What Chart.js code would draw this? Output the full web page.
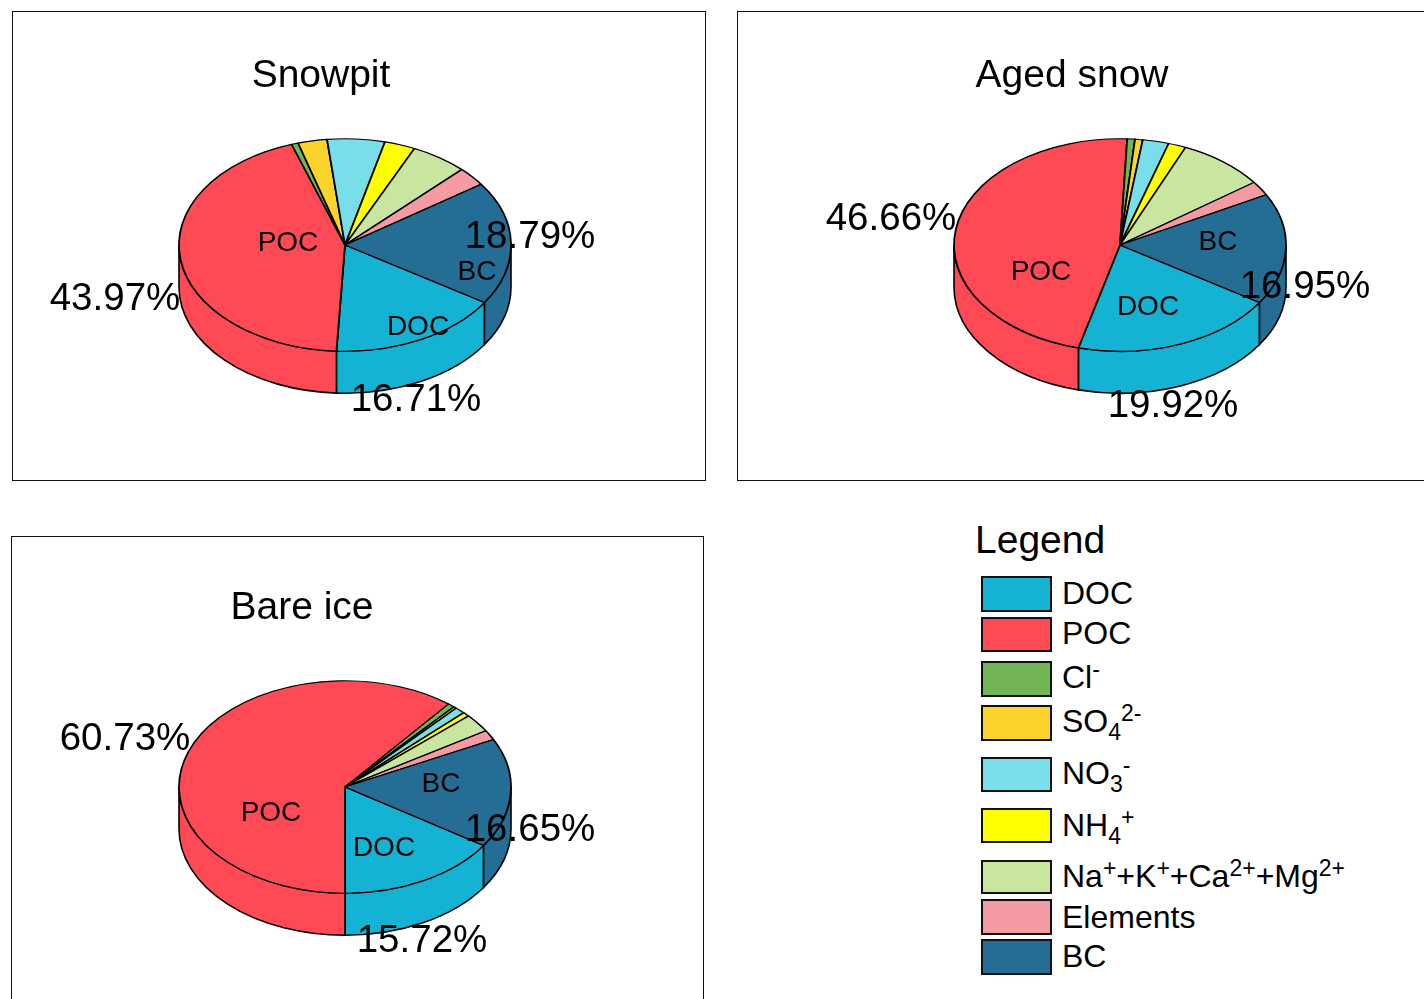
<!DOCTYPE html>
<html>
<head>
<meta charset="utf-8">
<title>Light absorbing components</title>
<script src="https://cdn.jsdelivr.net/npm/chart.js@4/dist/chart.umd.js"></script>
<style>
    html, body { margin: 0; padding: 0; width: 1424px; height: 999px; overflow: hidden; background: #fff; }
    body { position: relative; font-family: "Liberation Sans", Arial, sans-serif; color: #000; }
    .painel { position: absolute; box-sizing: border-box; width: 694px; height: 470px; border: 1.6px solid #111; }
    .painel canvas { position: absolute; left: 0; top: 0; }
    #legendTitle { position: absolute; left: 975px; top: 517px; font-size: 39px; line-height: 45px; }
    .swatch { position: absolute; left: 981px; width: 71px; box-sizing: border-box; border: 2px solid #111; }
    .legendText { position: absolute; left: 1062px; font-size: 32px; line-height: 36px; white-space: nowrap; }
    .legendText sup, .legendText sub { font-size: 23px; line-height: 0; position: relative; vertical-align: baseline; }
    .legendText sup { top: -11px; }
    .legendText sub { top: 8px; }
</style>
</head>
<body>

<div class="painel" style="left:12px;top:11px"><canvas id="chartSnowpit"></canvas></div>
<div class="painel" style="left:737px;top:11px"><canvas id="chartAged"></canvas></div>
<div class="painel" style="left:11px;top:536px;width:693px"><canvas id="chartBare"></canvas></div>

<div id="legendTitle">Legend</div>
<div id="legend"></div>

<script>
// Series, all in percent, same order as the legend
const categories = ['DOC', 'POC', 'Cl<sup>-</sup>', 'SO<sub>4</sub><sup>2-</sup>', 'NO<sub>3</sub><sup>-</sup>', 'NH<sub>4</sub><sup>+</sup>',
    'Na<sup>+</sup>+K<sup>+</sup>+Ca<sup>2+</sup>+Mg<sup>2+</sup>', 'Elements', 'BC'];
const snowpitValues = [16.71, 43.97, 0.65, 2.83, 5.6, 3.0, 5.55, 2.9, 18.79];
const agedSnowValues = [19.92, 46.66, 0.75, 0.75, 2.55, 1.72, 8.5, 2.2, 16.95];
const bareIceValues = [15.72, 60.73, 0.65, 0.3, 1.0, 0.67, 2.78, 1.5, 16.65];
const sliceColors = ['#14B3D3', '#FF4A55', '#72B557', '#FBD42B', '#78DFEA', '#FFFF00', '#C9E6A0', '#F49AA2', '#246E96'];

// Slices that get a name and a percentage
const labelledSlices = [0, 1, 8];

const RADIUS = 166;
const SQUASH = 0.64;
const DEPTH = 42;
const CANVAS_W = 692;
const CANVAS_H = 468;

// Side wall of the pie, front half only, then the top is squashed into an ellipse
const pie3d = {
    id: 'pie3d',
    beforeDatasetDraw(chart) {
        const ctx = chart.ctx;
        const arcs = chart.getDatasetMeta(0).data;
        const ry = RADIUS * SQUASH;
        ctx.save();
        ctx.lineWidth = 1.6;
        ctx.strokeStyle = '#000';
        arcs.forEach(function (arc, i) {
            for (let k = 0; k < 2; k++) {
                const de = Math.max(arc.startAngle, 2 * Math.PI * k);
                const ate = Math.min(arc.endAngle, 2 * Math.PI * k + Math.PI);
                if (ate <= de) continue;
                ctx.beginPath();
                ctx.ellipse(arc.x, arc.y, RADIUS, ry, 0, de, ate);
                ctx.ellipse(arc.x, arc.y + DEPTH, RADIUS, ry, 0, ate, de, true);
                ctx.closePath();
                ctx.fillStyle = sliceColors[i];
                ctx.fill();
                ctx.stroke();
            }
        });
        ctx.restore();

        const centro = arcs[0];
        ctx.save();
        ctx.translate(centro.x, centro.y);
        ctx.scale(1, SQUASH);
        ctx.translate(-centro.x, -centro.y);
    },
    afterDatasetDraw(chart) {
        chart.ctx.restore();
    },
    afterDraw(chart, args, opts) {
        const ctx = chart.ctx;
        const valores = chart.data.datasets[0].data;
        ctx.save();
        ctx.fillStyle = '#000';
        ctx.textAlign = 'center';
        ctx.textBaseline = 'middle';

        ctx.font = '39px "Liberation Sans"';
        ctx.fillText(opts.title, opts.titlePos[0], opts.titlePos[1]);

        ctx.font = '28px "Liberation Sans"';
        labelledSlices.forEach(function (s, i) {
            ctx.fillText(chart.data.labels[s], opts.namePos[i][0], opts.namePos[i][1]);
        });

        ctx.font = '38.5px "Liberation Sans"';
        labelledSlices.forEach(function (s, i) {
            ctx.fillText(valores[s].toFixed(2) + '%', opts.pctPos[i][0], opts.pctPos[i][1]);
        });
        ctx.restore();
    }
};

function plotarPizza(canvasId, valores, rotacao, centerX, centerY, textos) {
    const canvas = document.getElementById(canvasId);
    canvas.width = CANVAS_W;
    canvas.height = CANVAS_H;

    const config = {
        type: 'pie',
        data: {
            labels: categories,
            datasets: [{
                data: valores,
                backgroundColor: sliceColors,
                borderColor: '#000',
                borderWidth: 1.8,
                radius: RADIUS,
                clip: false
            }]
        },
        options: {
            responsive: false,
            animation: false,
            rotation: rotacao,
            layout: {
                padding: {
                    left: Math.max(0, 2 * centerX - CANVAS_W),
                    right: Math.max(0, CANVAS_W - 2 * centerX),
                    top: Math.max(0, 2 * centerY - CANVAS_H),
                    bottom: Math.max(0, CANVAS_H - 2 * centerY)
                }
            },
            plugins: {
                legend: { display: false },
                tooltip: { enabled: false },
                pie3d: textos
            }
        },
        plugins: [pie3d]
    };
    return new Chart(canvas.getContext('2d'), config);
}

// Text spots are canvas coordinates, order DOC, POC, BC
plotarPizza('chartSnowpit', snowpitValues, 122.8, 332, 233, {
    title: 'Snowpit', titlePos: [308, 64],
    namePos: [[405, 315], [275, 231], [464, 260]],
    pctPos: [[403, 388], [102, 287], [517, 225]]
});
plotarPizza('chartAged', agedSnowValues, 122.8, 382, 233, {
    title: 'Aged snow', titlePos: [334, 64],
    namePos: [[410, 295], [303, 260], [480, 230]],
    pctPos: [[435, 394], [153, 207], [567, 275]]
});
plotarPizza('chartBare', bareIceValues, 123.4, 333, 250, {
    title: 'Bare ice', titlePos: [290, 71],
    namePos: [[372, 311], [259, 276], [429, 247]],
    pctPos: [[410, 404], [113, 202], [518, 293]]
});

// Legend boxes, tops are uneven because of the sub/superscript rows
const legendTops = [576, 617, 661, 705, 757, 808, 860, 899, 939];
const legendHeights = [36, 35, 36, 36, 35, 35, 34, 36, 36];
const legendTextTops = [575, 615, 659, 703, 755, 807, 858, 899, 938];
const legend = document.getElementById('legend');
categories.forEach(function (nome, i) {
    const caixa = document.createElement('div');
    caixa.className = 'swatch';
    caixa.style.top = legendTops[i] + 'px';
    caixa.style.height = legendHeights[i] + 'px';
    caixa.style.background = sliceColors[i];
    legend.appendChild(caixa);

    const texto = document.createElement('div');
    texto.className = 'legendText';
    texto.style.top = legendTextTops[i] + 'px';
    texto.innerHTML = nome;
    legend.appendChild(texto);
});
</script>
</body>
</html>
